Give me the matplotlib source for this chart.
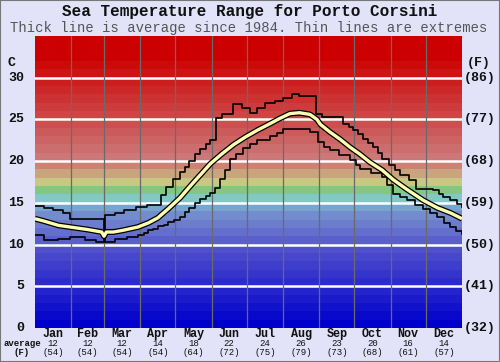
import matplotlib.pyplot as plt
from matplotlib.patches import Rectangle

# day-of-year readings (upper extreme, lower extreme, average), deg C
upper_days = [0, 8, 15, 24, 30, 58, 59, 60, 68, 76, 86, 96, 104, 108, 112, 118, 124, 128, 132, 137,
              141, 146, 150, 155, 160, 169, 177, 184, 190, 197, 205, 212, 220, 226, 240, 245, 263,
              268, 272, 276, 280, 285, 289, 293, 297, 303, 308, 312, 320, 326, 340, 345, 349, 355,
              361, 365]
upper_vals = [14.6, 14.4, 14.1, 13.8, 13.1, 13.1, 10.3, 13.5, 13.8, 14.1, 14.5, 14.7, 14.8, 15.9,
              16.9, 17.9, 18.7, 19.3, 20.0, 20.8, 21.5, 22.0, 22.5, 25.2, 25.6, 26.9, 26.4, 25.8,
              26.4, 27.0, 27.2, 27.6, 28.1, 27.8, 25.7, 25.3, 24.5, 24.1, 23.7, 23.2, 22.7, 22.2,
              21.7, 21.0, 20.3, 19.5, 18.9, 18.3, 17.7, 16.7, 16.5, 16.1, 15.7, 15.3, 14.9, 14.5]

lower_days = [0, 8, 20, 30, 43, 52, 58, 68, 79, 88, 93, 97, 101, 105, 110, 114, 119, 124, 128, 132,
              137, 141, 146, 150, 154, 158, 162, 167, 172, 178, 184, 190, 201, 207, 212, 229, 235,
              242, 247, 252, 260, 269, 274, 278, 287, 297, 301, 306, 312, 318, 325, 332, 338, 344,
              350, 355, 360, 365]
lower_vals = [11.1, 10.6, 10.7, 10.9, 10.5, 10.3, 10.3, 10.7, 10.9, 11.1, 11.4, 11.7, 11.9, 12.2,
              12.4, 12.7, 13.0, 13.3, 13.9, 14.4, 15.0, 15.5, 15.8, 16.2, 16.8, 17.9, 18.9, 20.3,
              20.9, 21.6, 22.0, 22.5, 23.0, 23.4, 23.9, 23.9, 23.5, 22.3, 21.7, 21.3, 20.7, 20.1,
              19.5, 19.1, 18.6, 18.1, 17.1, 16.1, 15.7, 15.3, 14.8, 14.3, 13.8, 13.3, 12.6, 12.1,
              11.6, 11.3]

avg_days = [0, 8, 20, 30, 45, 57, 59, 61, 67, 75, 88, 97, 105, 114, 124, 132, 141, 150, 160, 170,
            180, 190, 201, 209, 218, 226, 235, 241, 244, 252, 261, 269, 278, 286, 297, 306, 318,
            332, 344, 355, 365]
avg_vals = [13.1, 12.8, 12.3, 12.1, 11.8, 11.5, 11.0, 11.5, 11.5, 11.7, 12.1, 12.6, 13.2, 14.3,
            15.6, 16.9, 18.3, 19.7, 20.9, 22.0, 22.9, 23.7, 24.5, 25.1, 25.7, 25.8, 25.6, 25.0,
            24.4, 23.5, 22.6, 21.7, 20.8, 19.9, 18.9, 17.8, 16.6, 15.3, 14.4, 13.8, 13.1]

months = ['Jan', 'Feb', 'Mar', 'Apr', 'May', 'Jun', 'Jul', 'Aug', 'Sep', 'Oct', 'Nov', 'Dec']
month_start = [0, 31, 59, 90, 120, 151, 181, 212, 243, 273, 304, 334, 365]
month_avg_c = [12, 12, 12, 14, 18, 22, 24, 26, 23, 20, 16, 14]
month_avg_f = [54, 54, 54, 54, 64, 72, 75, 79, 73, 68, 61, 57]

c_ticks = [0, 5, 10, 15, 20, 25, 30]
f_ticks = [32, 41, 50, 59, 68, 77, 86]

# background band colours, one per degree from 0 up to 35
band_cols = []
for t in range(10):
    v = int(round(80 * t / 9))
    band_cols.append((v, v, 204))
band_cols += [(90, 95, 205), (100, 110, 205), (108, 125, 205), (115, 140, 205), (120, 165, 205),
              (130, 200, 200), (130, 200, 130), (200, 200, 130), (200, 165, 125), (205, 130, 115)]
for t in range(20, 35):
    v = max(0, int(round(120 - 10 * (t - 20))))
    band_cols.append((204, v, v))

mono = 'Liberation Mono'
fig = plt.figure(figsize=(5, 3.62), dpi=100, facecolor='#e2e2f8')
ax = fig.add_axes([0.07, 0.094, 0.854, 0.8066])

for t, c in enumerate(band_cols):
    ax.axhspan(t, t + 1, color=[x / 255 for x in c], lw=0, zorder=0)

for y in c_ticks[1:]:
    ax.axhline(y, color='white', lw=1.8, zorder=1)
for d in month_start[1:-1]:
    ax.axvline(d, color='#6a6a6a', lw=0.9, zorder=1)

ax.plot(upper_days, upper_vals, color='black', lw=1.2, drawstyle='steps-post', zorder=3)
ax.plot(lower_days, lower_vals, color='black', lw=1.2, drawstyle='steps-post', zorder=3)
ax.plot(avg_days, avg_vals, color='black', lw=4.2, zorder=4, solid_capstyle='butt')
ax.plot(avg_days, avg_vals, color='#ffffb0', lw=2.4, zorder=5, solid_capstyle='butt')

ax.set_xlim(0, 365)
ax.set_ylim(0, 35)
ax.set_xticks([])
ax.set_yticks([])
for s in ax.spines.values():
    s.set_visible(False)

ty = ax.get_yaxis_transform()
for c, f in zip(c_ticks, f_ticks):
    ax.text(-0.025, c, str(c), transform=ty, ha='right', va='center',
            family=mono, weight='bold', fontsize=9.5, color='#111')
    ax.text(1.005, c, '(%d)' % f, transform=ty, ha='left', va='center',
            family=mono, weight='bold', fontsize=9.5, color='#111')
ax.text(-0.045, 31.8, 'C', transform=ty, ha='right', va='center',
        family=mono, weight='bold', fontsize=9.5, color='#111')
ax.text(1.012, 31.8, '(F)', transform=ty, ha='left', va='center',
        family=mono, weight='bold', fontsize=9.5, color='#111')

tx = ax.get_xaxis_transform()
for i, m in enumerate(months):
    xc = (month_start[i] + month_start[i + 1]) / 2
    ax.text(xc, -0.022, m, transform=tx, ha='center', va='center',
            family=mono, weight='bold', fontsize=8.5, color='#111')
    ax.text(xc, -0.054, str(month_avg_c[i]), transform=tx, ha='center', va='center',
            family=mono, fontsize=6.5, color='#111')
    ax.text(xc, -0.084, '(%d)' % month_avg_f[i], transform=tx, ha='center', va='center',
            family=mono, fontsize=6.5, color='#111')
fig.text(0.044, 0.052, 'average', ha='center', va='center', family=mono, weight='bold',
         fontsize=6.5, color='#111')
fig.text(0.044, 0.027, '(F)', ha='center', va='center', family=mono, weight='bold',
         fontsize=6.5, color='#111')

fig.text(0.5, 0.967, 'Sea Temperature Range for Porto Corsini', ha='center', va='center',
         family=mono, weight='bold', fontsize=11.5, color='#111')
fig.text(0.497, 0.922, 'Thick line is average since 1984. Thin lines are extremes',
         ha='center', va='center', family=mono, fontsize=10, color='#555')

fig.patches.append(Rectangle((0, 0), 1, 1, transform=fig.transFigure, fill=False,
                             edgecolor='#777', lw=1.5))

fig.savefig('out.png', dpi=100, facecolor=fig.get_facecolor())
